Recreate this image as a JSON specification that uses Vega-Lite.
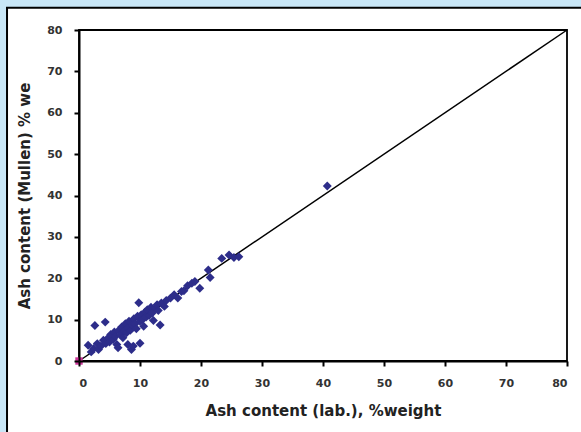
{
  "$schema": "https://vega.github.io/schema/vega-lite/v6.json",
  "width": 488,
  "height": 331,
  "autosize": {"type": "none"},
  "padding": {"left": 79, "top": 30, "right": 14, "bottom": 71},
  "background": "#c8e6f6",
  "config": {
    "view": {"stroke": null}
  },
  "resolve": {"axis": {"x": "independent", "y": "independent"}},
  "datasets": {
    "samples": [
      {"lab": 1.5, "mullen": 3.8}, {"lab": 2.0, "mullen": 2.2}, {"lab": 2.4, "mullen": 3.0},
      {"lab": 2.6, "mullen": 8.6}, {"lab": 3.0, "mullen": 4.2}, {"lab": 3.2, "mullen": 2.8},
      {"lab": 3.6, "mullen": 3.6}, {"lab": 4.0, "mullen": 5.0}, {"lab": 4.3, "mullen": 9.4},
      {"lab": 4.4, "mullen": 4.2}, {"lab": 4.8, "mullen": 5.6}, {"lab": 5.0, "mullen": 4.6},
      {"lab": 5.2, "mullen": 6.4}, {"lab": 5.6, "mullen": 5.2}, {"lab": 5.8, "mullen": 7.0},
      {"lab": 6.0, "mullen": 6.0}, {"lab": 6.2, "mullen": 4.0}, {"lab": 6.4, "mullen": 3.2},
      {"lab": 6.5, "mullen": 7.4}, {"lab": 6.8, "mullen": 6.4}, {"lab": 7.0, "mullen": 8.2},
      {"lab": 7.2, "mullen": 5.6}, {"lab": 7.4, "mullen": 7.2}, {"lab": 7.6, "mullen": 9.0},
      {"lab": 7.8, "mullen": 6.8}, {"lab": 8.0, "mullen": 8.0}, {"lab": 8.0, "mullen": 4.0},
      {"lab": 8.2, "mullen": 9.6}, {"lab": 8.4, "mullen": 7.4}, {"lab": 8.6, "mullen": 2.8},
      {"lab": 8.8, "mullen": 8.6}, {"lab": 8.9, "mullen": 3.6}, {"lab": 9.0, "mullen": 10.2},
      {"lab": 9.2, "mullen": 9.0}, {"lab": 9.4, "mullen": 7.8}, {"lab": 9.6, "mullen": 10.8},
      {"lab": 9.8, "mullen": 14.1}, {"lab": 10.0, "mullen": 4.3}, {"lab": 10.0, "mullen": 9.6},
      {"lab": 10.2, "mullen": 11.2}, {"lab": 10.4, "mullen": 10.0}, {"lab": 10.6, "mullen": 8.4},
      {"lab": 10.8, "mullen": 11.8}, {"lab": 11.0, "mullen": 10.6}, {"lab": 11.2, "mullen": 12.4},
      {"lab": 11.5, "mullen": 11.0}, {"lab": 11.8, "mullen": 13.0}, {"lab": 12.0, "mullen": 11.6},
      {"lab": 12.2, "mullen": 9.8}, {"lab": 12.5, "mullen": 12.8}, {"lab": 12.8, "mullen": 13.6},
      {"lab": 13.0, "mullen": 12.2}, {"lab": 13.3, "mullen": 8.7}, {"lab": 13.5, "mullen": 14.0},
      {"lab": 14.0, "mullen": 13.2}, {"lab": 14.3, "mullen": 14.6}, {"lab": 15.0, "mullen": 15.2},
      {"lab": 15.6, "mullen": 16.0}, {"lab": 16.2, "mullen": 15.2}, {"lab": 16.8, "mullen": 16.8},
      {"lab": 17.2, "mullen": 17.0}, {"lab": 17.8, "mullen": 18.2}, {"lab": 18.5, "mullen": 18.8},
      {"lab": 19.0, "mullen": 19.2}, {"lab": 19.8, "mullen": 17.6}, {"lab": 21.2, "mullen": 22.0},
      {"lab": 21.5, "mullen": 20.2}, {"lab": 23.4, "mullen": 24.8}, {"lab": 24.6, "mullen": 25.6},
      {"lab": 25.4, "mullen": 25.0}, {"lab": 26.2, "mullen": 25.2}, {"lab": 40.7, "mullen": 42.3}
    ],
    "identity": [
      {"lab": 0, "mullen": 0},
      {"lab": 80, "mullen": 80}
    ],
    "origin": [
      {"lab": 0, "mullen": 0}
    ]
  },
  "layer": [
    {
      "data": {"values": [{}]},
      "mark": {"type": "rect", "fill": "#ffffff", "stroke": "#000000", "strokeWidth": 2, "clip": false},
      "encoding": {
        "x": {"datum": -11.8, "type": "quantitative", "scale": {"domain": [0, 80], "nice": false}, "axis": null},
        "x2": {"datum": 86},
        "y": {"datum": -20, "type": "quantitative", "scale": {"domain": [0, 80], "nice": false}, "axis": null},
        "y2": {"datum": 85.4}
      }
    },
    {
      "data": {"values": [{}]},
      "mark": {"type": "rect", "fill": "transparent", "stroke": "#000000", "strokeWidth": 1.8},
      "encoding": {
        "x": {"datum": 0, "type": "quantitative", "axis": null},
        "x2": {"datum": 80},
        "y": {"datum": 0, "type": "quantitative", "axis": null},
        "y2": {"datum": 80}
      }
    },
    {
      "data": {"name": "identity"},
      "mark": {"type": "line", "color": "#000000", "strokeWidth": 1.5},
      "encoding": {
        "x": {"field": "lab", "type": "quantitative", "axis": null},
        "y": {"field": "mullen", "type": "quantitative", "axis": null}
      }
    },
    {
      "data": {"name": "samples"},
      "mark": {"type": "point", "shape": "diamond", "filled": true, "size": 80, "color": "#2d2d8a", "opacity": 1},
      "encoding": {
        "x": {
          "field": "lab",
          "type": "quantitative",
          "axis": {
            "title": "Ash content (lab.), %weight",
            "values": [0, 10, 20, 30, 40, 50, 60, 70, 80],
            "grid": false, "zindex": 1,
            "domainColor": "#000000", "domainWidth": 2,
            "tickColor": "#000000", "tickWidth": 2, "tickSize": 5,
            "labelFont": "DejaVu Sans", "labelFontWeight": "bold", "labelFontSize": 11, "labelColor": "#333333", "labelPadding": 11,
            "titleFont": "DejaVu Sans", "titleFontWeight": "bold", "titleFontSize": 15, "titleColor": "#222222", "titlePadding": 15
          }
        },
        "y": {
          "field": "mullen",
          "type": "quantitative",
          "axis": {
            "title": "Ash content (Mullen) % we",
            "values": [0, 10, 20, 30, 40, 50, 60, 70, 80],
            "grid": false, "zindex": 1,
            "domainColor": "#000000", "domainWidth": 2,
            "tickColor": "#000000", "tickWidth": 2, "tickSize": 5,
            "labelFont": "DejaVu Sans", "labelFontWeight": "bold", "labelFontSize": 11, "labelColor": "#333333", "labelPadding": 12,
            "titleFont": "DejaVu Sans", "titleFontWeight": "bold", "titleFontSize": 15, "titleColor": "#222222", "titlePadding": 14
          }
        }
      }
    },
    {
      "data": {"name": "origin"},
      "mark": {"type": "point", "shape": "square", "filled": true, "size": 55, "color": "#cc3399", "opacity": 1, "clip": false},
      "encoding": {
        "x": {"field": "lab", "type": "quantitative", "axis": null},
        "y": {"field": "mullen", "type": "quantitative", "axis": null}
      }
    }
  ]
}
